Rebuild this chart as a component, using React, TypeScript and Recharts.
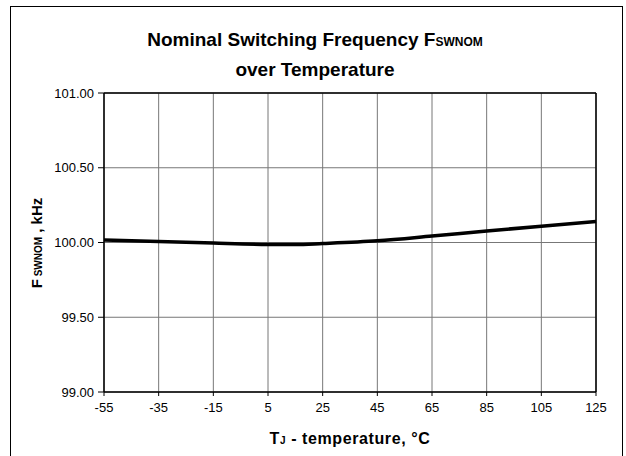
import React from "react";
import {
  LineChart,
  Line,
  XAxis,
  YAxis,
  CartesianGrid,
  ReferenceLine,
} from "recharts";

// junction temperature, °C
const temps = [-55, -35, -15, 5, 15, 25, 45, 65, 85, 105, 125];
// nominal switching frequency, kHz
const freqs = [100.016, 100.007, 99.996, 99.987, 99.986, 99.993, 100.011, 100.043, 100.077, 100.109, 100.14];

const xTicks = [-55, -35, -15, 5, 25, 45, 65, 85, 105, 125];
const yTicks = [99, 99.5, 100, 100.5, 101];

const data = temps.map((t, i) => ({ t, f: freqs[i] }));

const FONT = "'Liberation Sans', Arial, sans-serif";

export default function App() {
  return (
    <div
      style={{
        position: "absolute",
        left: 0,
        top: 0,
        width: 626,
        height: 456,
        overflow: "hidden",
        background: "#fff",
        fontFamily: FONT,
      }}
    >
      {/* outer frame */}
      <div
        style={{
          position: "absolute",
          left: 10,
          top: 6,
          width: 613,
          height: 470,
          border: "1.5px solid #000",
          boxSizing: "border-box",
        }}
      />

      <div
        style={{
          position: "absolute",
          left: 10,
          width: 610,
          top: 26,
          textAlign: "center",
          fontWeight: "bold",
          fontSize: 19,
          lineHeight: "27px",
        }}
      >
        <div>
          Nominal Switching Frequency F
          <span style={{ fontSize: 12 }}>SWNOM</span>
        </div>
        <div>over Temperature</div>
      </div>

      <div
        style={{
          position: "absolute",
          left: 36,
          top: 243,
          transform: "translate(-50%, -50%) rotate(-90deg)",
          whiteSpace: "nowrap",
          fontWeight: "bold",
          fontSize: 15,
        }}
      >
        F<span style={{ fontSize: 10 }}> SWNOM</span> , kHz
      </div>

      <div
        style={{
          position: "absolute",
          left: 104,
          width: 492,
          top: 430,
          textAlign: "center",
          fontWeight: "bold",
          fontSize: 16,
          letterSpacing: 0.6,
        }}
      >
        T<span style={{ fontSize: 10 }}>J</span> - temperature, °C
      </div>

      <div style={{ position: "absolute", left: 0, top: 0 }}>
        <LineChart
          width={626}
          height={456}
          data={data}
          margin={{ top: 93, right: 30, bottom: 34, left: 0 }}
        >
          <CartesianGrid stroke="#777" strokeWidth={1} />
          <XAxis
            dataKey="t"
            type="number"
            domain={[-55, 125]}
            ticks={xTicks}
            interval={0}
            height={30}
            axisLine={{ stroke: "#000", strokeWidth: 1.5 }}
            tickLine={{ stroke: "#000" }}
            tickSize={4}
            tickMargin={7}
            tick={{ fill: "#000", fontSize: 13, fontFamily: FONT }}
          />
          <YAxis
            type="number"
            domain={[99, 101]}
            ticks={yTicks}
            interval={0}
            width={104}
            tickFormatter={(v) => Number(v).toFixed(2)}
            axisLine={{ stroke: "#000", strokeWidth: 1.5 }}
            tickLine={{ stroke: "#000" }}
            tickSize={6}
            tickMargin={4}
            tick={{ fill: "#000", fontSize: 13, fontFamily: FONT }}
          />
          <ReferenceLine y={101} stroke="#000" strokeWidth={1.5} />
          <ReferenceLine x={125} stroke="#000" strokeWidth={1.5} />
          <Line
            dataKey="f"
            type="monotone"
            stroke="#000"
            strokeWidth={3.5}
            dot={false}
            isAnimationActive={false}
          />
        </LineChart>
      </div>
    </div>
  );
}
